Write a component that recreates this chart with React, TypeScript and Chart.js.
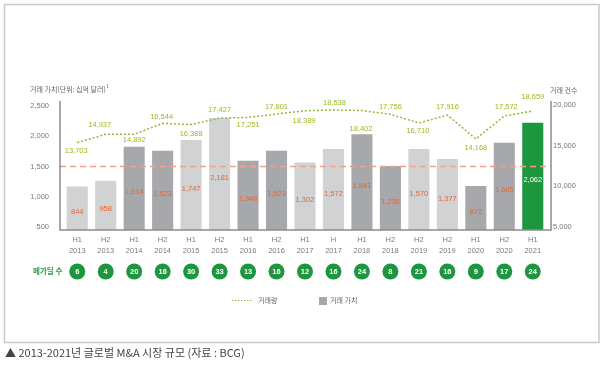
import { useEffect, useRef } from 'react';
import { Chart, registerables } from 'chart.js';

Chart.register(...registerables);

// ---- data ----
const periods = ['H1', 'H2', 'H1', 'H2', 'H1', 'H2', 'H1', 'H2', 'H1', 'H', 'H1', 'H2', 'H2', 'H2', 'H1', 'H2', 'H1'];
const years = ['2013', '2013', '2014', '2014', '2015', '2015', '2016', '2016', '2017', '2017', '2018', '2018', '2019', '2019', '2020', '2020', '2021'];
// printed deal value labels (billion USD)
const dealValueLabels = [844, 958, 1614, 1523, 1747, 2181, 1348, 1523, 1302, 1572, 1841, 1236, 1570, 1377, 872, 1685, 2062];
// bar heights as read against the left axis
const dealValueBars = [1170, 1265, 1825, 1760, 1935, 2300, 1595, 1760, 1565, 1790, 2030, 1510, 1790, 1625, 1180, 1890, 2220];
// printed deal volume labels
const dealVolumeLabels = [13703, 14937, 14892, 16544, 16388, 17427, 17251, 17801, 18389, 18538, 18402, 17756, 16710, 17916, 14168, 17572, 18659];
// line points as read against the right axis
const dealVolumeLine = [15400, 16420, 16420, 17770, 17620, 18420, 18490, 18920, 19320, 19410, 19350, 18880, 17810, 18790, 15840, 18670, 19290];
const megadeals = [6, 4, 20, 16, 30, 33, 13, 16, 12, 16, 24, 8, 21, 16, 9, 17, 24];
const leftTicks = [500, 1000, 1500, 2000, 2500];
const rightTicks = [5000, 10000, 15000, 20000];
const referenceValue = 1500;

// ---- styles ----
const NUM_FONT = '"Liberation Sans", Arial, sans-serif';
const KR_FONT = '"Noto Sans CJK KR", "Noto Sans", sans-serif';
const LIGHT = '#d1d2d4';
const DARK = '#a7a8ab';
const GREEN = '#1e9640';
const LINE_GREEN = '#8dbb3a';
const LABEL_GREEN = '#9cba22';
const ORANGE = '#e8652a';
// label offsets (px) for volume labels relative to line point
const volLabelDy = [8, -9, 6, -6, 9.5, -8, 7.5, -7, 10, -7, 18, -7, 8, -8, 9, -9, -14];
const volLabelDx = [-1, -6, 0, -1, 0, 0, 0, 0, -1, 1, -1, 0, -1, 0, 0, 2, 0];

const barColors = dealValueBars.map((_, i) =>
  i === dealValueBars.length - 1 ? GREEN : Math.floor(i / 2) % 2 === 0 ? LIGHT : DARK
);

const fmt = (v: number) => v.toLocaleString('en-US');

const overlay = {
  id: 'overlay',
  beforeDraw(chart: any) {
    const ctx = chart.ctx;
    ctx.save();
    ctx.fillStyle = '#ffffff';
    ctx.fillRect(0, 0, chart.width, chart.height);
    ctx.strokeStyle = '#c9c9c9';
    ctx.lineWidth = 1.5;
    ctx.strokeRect(4.5, 4.5, 594.5, 338);
    ctx.restore();
  },
  afterDatasetsDraw(chart: any) {
    const ctx = chart.ctx;
    const area = chart.chartArea;
    const yL = chart.scales.y;
    const xs = chart.scales.x;
    const axL = area.left - 3;
    const axR = area.right + 4;
    ctx.save();
    // reference dashed line
    const ry = yL.getPixelForValue(referenceValue);
    ctx.strokeStyle = '#f2a27f';
    ctx.lineWidth = 1.5;
    ctx.setLineDash([6, 4]);
    ctx.beginPath();
    ctx.moveTo(axL, ry);
    ctx.lineTo(axR, ry);
    ctx.stroke();
    ctx.setLineDash([]);
    // axes
    ctx.strokeStyle = '#8c8c8c';
    ctx.lineWidth = 1.5;
    ctx.beginPath();
    ctx.moveTo(axL, area.top);
    ctx.lineTo(axL, area.bottom);
    ctx.lineTo(axR, area.bottom);
    ctx.lineTo(axR, area.top);
    ctx.stroke();

    // bar labels
    const barMeta = chart.getDatasetMeta(0);
    ctx.font = `7.5px ${NUM_FONT}`;
    ctx.textAlign = 'center';
    ctx.textBaseline = 'middle';
    barMeta.data.forEach((bar: any, i: number) => {
      const base = Math.min(bar.base, area.bottom);
      const mid = (bar.y + base) / 2 + 4;
      ctx.fillStyle = i === barMeta.data.length - 1 ? '#ffffff' : ORANGE;
      ctx.fillText(fmt(dealValueLabels[i]), bar.x, mid);
    });

    // line labels
    const lineMeta = chart.getDatasetMeta(1);
    ctx.fillStyle = LABEL_GREEN;
    lineMeta.data.forEach((pt: any, i: number) => {
      ctx.fillText(fmt(dealVolumeLabels[i]), pt.x + volLabelDx[i], pt.y + volLabelDy[i]);
    });

    // megadeal circles
    const cy = 271.5;
    megadeals.forEach((n, i) => {
      const cx = xs.getPixelForValue(i);
      ctx.fillStyle = GREEN;
      ctx.beginPath();
      ctx.arc(cx, cy, 8, 0, Math.PI * 2);
      ctx.fill();
      ctx.fillStyle = '#ffffff';
      ctx.font = `bold 7.5px ${NUM_FONT}`;
      ctx.fillText(String(n), cx, cy + 0.5);
    });
    ctx.fillStyle = '#2a9a48';
    ctx.font = `bold 7.5px ${KR_FONT}`;
    ctx.textAlign = 'left';
    ctx.fillText('메가딜 수', 33, cy);

    // axis titles
    ctx.fillStyle = '#666666';
    ctx.font = `7px ${KR_FONT}`;
    ctx.textAlign = 'left';
    ctx.fillText('거래 가치(단위: 십억 달러)', 30, 89);
    const tw = ctx.measureText('거래 가치(단위: 십억 달러)').width;
    ctx.font = `5px ${KR_FONT}`;
    ctx.fillText('1', 30 + tw + 0.5, 86);
    ctx.font = `7px ${KR_FONT}`;
    ctx.fillText('거래 건수', 550, 90);

    // legend
    const ly = 300.5;
    ctx.strokeStyle = LINE_GREEN;
    ctx.lineWidth = 1.2;
    ctx.setLineDash([1.5, 1.5]);
    ctx.beginPath();
    ctx.moveTo(232, ly);
    ctx.lineTo(253, ly);
    ctx.stroke();
    ctx.setLineDash([]);
    ctx.fillStyle = '#666666';
    ctx.font = `7px ${KR_FONT}`;
    ctx.fillText('거래량', 258, ly);
    ctx.fillStyle = DARK;
    ctx.fillRect(319, 297, 8, 8);
    ctx.fillStyle = '#666666';
    ctx.fillText('거래 가치', 330, ly);

    // caption
    ctx.fillStyle = '#444444';
    ctx.font = `11px ${KR_FONT}`;
    ctx.fillText('▲ 2013-2021년 글로벌 M&A 시장 규모 (자료 : BCG)', 5, 353);
    ctx.restore();
  },
};

export default function App() {
  const ref = useRef<HTMLCanvasElement | null>(null);
  useEffect(() => {
    if (!ref.current) return;
    const chart = new Chart(ref.current, {
      type: 'bar',
      data: {
        labels: periods.map((p, i) => [p, years[i]]),
        datasets: [
          {
            type: 'bar',
            label: '거래 가치',
            data: dealValueBars,
            backgroundColor: barColors,
            borderWidth: 0,
            yAxisID: 'y',
            categoryPercentage: 1,
            barPercentage: 0.74,
            order: 1,
          },
          {
            type: 'line',
            label: '거래량',
            data: dealVolumeLine,
            borderColor: LINE_GREEN,
            borderWidth: 1.5,
            borderDash: [2, 2],
            pointRadius: 0,
            tension: 0,
            fill: false,
            yAxisID: 'y1',
            order: 0,
          },
        ],
      },
      options: {
        responsive: false,
        animation: false,
        devicePixelRatio: 1,
        layout: { padding: { top: 101, left: 0, right: 0, bottom: 0 } },
        plugins: { legend: { display: false }, tooltip: { enabled: false } },
        scales: {
          x: {
            offset: true,
            grid: { display: false, drawTicks: false },
            border: { display: false },
            ticks: {
              color: '#7a7a7a',
              font: { family: NUM_FONT, size: 7.5, lineHeight: 1.38 },
              padding: 5,
              maxRotation: 0,
              autoSkip: false,
            },
            afterFit: (s: any) => { s.height = 137; },
          },
          y: {
            position: 'left',
            min: 455,
            max: 2578,
            grid: { display: false, drawTicks: false },
            border: { display: false },
            ticks: {
              color: '#7a7a7a',
              font: { family: NUM_FONT, size: 7.5 },
              padding: 14,
              callback: (v: any) => fmt(Number(v)),
            },
            afterBuildTicks: (s: any) => { s.ticks = leftTicks.map((v) => ({ value: v })); },
            afterFit: (s: any) => { s.width = 63; },
          },
          y1: {
            position: 'right',
            min: 4630,
            max: 20520,
            grid: { display: false, drawTicks: false },
            border: { display: false },
            ticks: {
              color: '#7a7a7a',
              font: { family: NUM_FONT, size: 7.5 },
              padding: 6,
              callback: (v: any) => fmt(Number(v)),
            },
            afterBuildTicks: (s: any) => { s.ticks = rightTicks.map((v) => ({ value: v })); },
            afterFit: (s: any) => { s.width = 58; },
          },
        },
      },
      plugins: [overlay],
    } as any);
    return () => chart.destroy();
  }, []);
  return (
    <canvas
      ref={ref}
      width={605}
      height={367}
      style={{ position: 'fixed', left: 0, top: 0, width: 605, height: 367 }}
    />
  );
}
